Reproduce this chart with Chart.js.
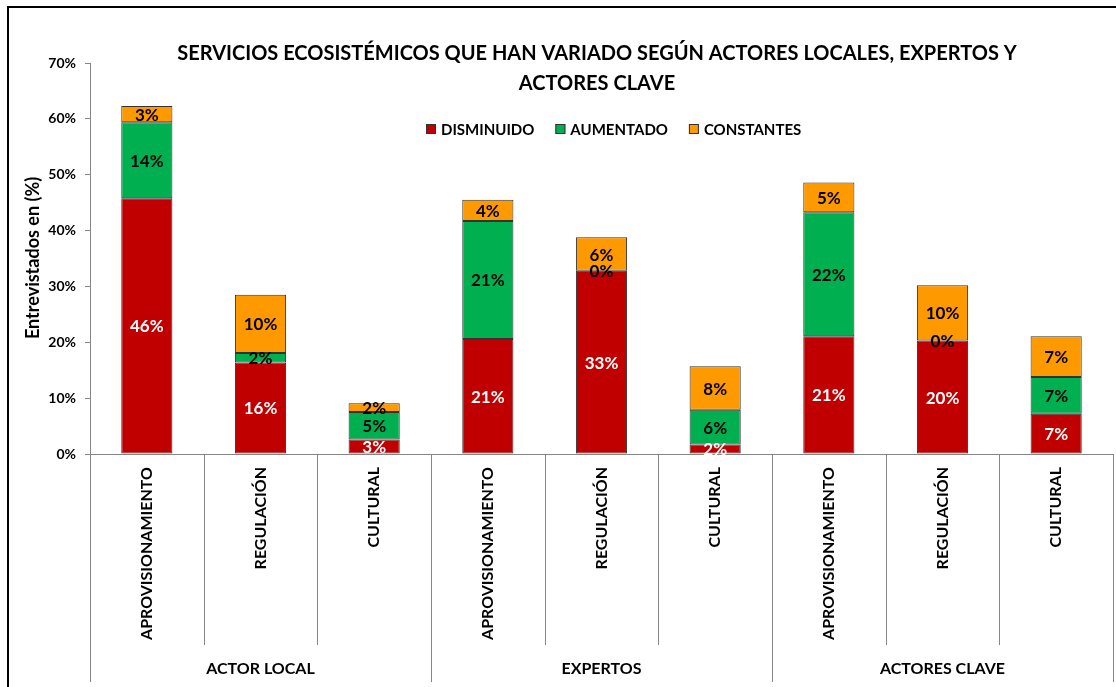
<!DOCTYPE html>
<html>
<head>
<meta charset="utf-8">
<script src="https://cdn.jsdelivr.net/npm/chart.js@4.4.1/dist/chart.umd.min.js"></script>
<style>
  html, body { margin: 0; padding: 0; background: #fff; }
  #wrap { width: 1116px; height: 687px; position: relative; }
</style>
</head>
<body>
<div id="wrap"><canvas id="chart"></canvas></div>
<script>
  // values (% of interviewees)
  const categories = ["APROVISIONAMIENTO", "REGULACIÓN", "CULTURAL",
                      "APROVISIONAMIENTO", "REGULACIÓN", "CULTURAL",
                      "APROVISIONAMIENTO", "REGULACIÓN", "CULTURAL"];
  const groups = ["ACTOR LOCAL", "EXPERTOS", "ACTORES CLAVE"];
  const seriesNames = ["DISMINUIDO", "AUMENTADO", "CONSTANTES"];
  const disminuido = [45.8, 16.4, 2.6, 20.6, 32.8, 1.7, 21.1, 20.3, 7.2];
  const aumentado  = [13.6, 1.7, 4.9, 21.1, 0.0, 6.2, 22.2, 0.0, 6.6];
  const constantes = [2.9, 10.4, 1.6, 3.8, 6.0, 7.8, 5.3, 9.9, 7.3];
  const titleLines = ["SERVICIOS ECOSISTÉMICOS QUE HAN VARIADO SEGÚN ACTORES LOCALES, EXPERTOS Y",
                      "ACTORES CLAVE"];
  const yTitle = "Entrevistados en (%)";

  const colors = ["#C00000", "#00B050", "#FF9900"];
  const FONT = "Lato, 'Open Sans', sans-serif";

  const overlay = {
    id: "overlay",
    beforeDraw(chart) {
      const ctx = chart.ctx;
      ctx.save();
      ctx.fillStyle = "#fff";
      ctx.fillRect(0, 0, chart.width, chart.height);
      ctx.strokeStyle = "#000";
      ctx.lineWidth = 2;
      ctx.strokeRect(8, 7, chart.width + 20, chart.height + 20);
      ctx.restore();
    },
    afterDatasetsDraw(chart) {
      const ctx = chart.ctx;
      ctx.save();
      ctx.font = "bold 17px " + FONT;
      ctx.textAlign = "center";
      ctx.textBaseline = "middle";
      chart.data.datasets.forEach((ds, i) => {
        const meta = chart.getDatasetMeta(i);
        meta.data.forEach((bar, j) => {
          const p = bar.getProps(["x", "y", "base"], true);
          ctx.fillStyle = i === 0 ? "#fff" : "#000";
          ctx.fillText(Math.round(ds.data[j]) + "%", p.x, (p.y + p.base) / 2 + 1);
        });
      });
      ctx.restore();
    },
    afterDraw(chart) {
      const ctx = chart.ctx;
      const xs = chart.scales.x;
      const area = chart.chartArea;
      const n = categories.length;
      const bounds = [];
      for (let i = 0; i <= n; i++) {
        if (i === 0) bounds.push(xs.left);
        else if (i === n) bounds.push(xs.right);
        else bounds.push((xs.getPixelForValue(i - 1) + xs.getPixelForValue(i)) / 2);
      }
      ctx.save();
      // separators of the two-level axis
      ctx.strokeStyle = "#868686";
      ctx.lineWidth = 1;
      bounds.forEach((bx, i) => {
        const long = i % 3 === 0;
        const x = Math.round(bx) + 0.5;
        ctx.beginPath();
        ctx.moveTo(x, area.bottom);
        ctx.lineTo(x, long ? 682 : 645);
        ctx.stroke();
      });
      // category labels, rotated
      ctx.fillStyle = "#000";
      ctx.font = "bold 16px " + FONT;
      ctx.textAlign = "right";
      ctx.textBaseline = "middle";
      categories.forEach((c, i) => {
        ctx.save();
        ctx.translate(xs.getPixelForValue(i), area.bottom + 13);
        ctx.rotate(-Math.PI / 2);
        ctx.fillText(c, 0, 0);
        ctx.restore();
      });
      // group labels
      ctx.textAlign = "center";
      ctx.font = "bold 16px " + FONT;
      groups.forEach((g, k) => {
        ctx.fillText(g, (bounds[k * 3] + bounds[k * 3 + 3]) / 2, 669);
      });
      // title
      ctx.font = "bold 20px " + FONT;
      ctx.fillText(titleLines[0], 597, 54);
      ctx.fillText(titleLines[1], 597, 84);
      // legend
      ctx.font = "bold 15px " + FONT;
      ctx.textAlign = "left";
      let lx = 426;
      seriesNames.forEach((s, i) => {
        ctx.fillStyle = colors[i];
        ctx.fillRect(lx, 124, 10, 10);
        ctx.strokeStyle = "#333";
        ctx.strokeRect(lx + 0.5, 124.5, 9, 9);
        ctx.fillStyle = "#000";
        ctx.fillText(s, lx + 15, 130);
        lx += 15 + ctx.measureText(s).width + 21;
      });
      // y axis title
      ctx.save();
      ctx.translate(33, 258);
      ctx.rotate(-Math.PI / 2);
      ctx.textAlign = "center";
      ctx.font = "bold 18px " + FONT;
      ctx.fillText(yTitle, 0, 0);
      ctx.restore();
      ctx.restore();
    }
  };

  new Chart(document.getElementById("chart"), {
    type: "bar",
    data: {
      labels: categories,
      datasets: [
        { label: seriesNames[0], data: disminuido, backgroundColor: colors[0] },
        { label: seriesNames[1], data: aumentado, backgroundColor: colors[1] },
        { label: seriesNames[2], data: constantes, backgroundColor: colors[2] }
      ].map(d => Object.assign(d, {
        borderColor: "#333",
        borderWidth: 1,
        borderSkipped: false,
        barPercentage: 1,
        categoryPercentage: 0.45
      }))
    },
    options: {
      responsive: true,
      maintainAspectRatio: false,
      animation: false,
      layout: { padding: { top: 63, right: 3, left: 0, bottom: 0 } },
      scales: {
        x: {
          stacked: true,
          ticks: { display: false },
          grid: { display: false },
          border: { color: "#868686" },
          afterFit: s => { s.height = 233; }
        },
        y: {
          stacked: true,
          min: 0,
          max: 70,
          ticks: {
            stepSize: 10,
            padding: 9,
            color: "#000",
            font: { family: FONT, size: 14, weight: "bold" },
            callback: v => v + "%"
          },
          grid: { drawOnChartArea: false, drawTicks: true, tickLength: 5, color: "#868686" },
          border: { color: "#868686" },
          afterFit: s => { s.width = 90; }
        }
      },
      plugins: {
        legend: { display: false },
        title: { display: false },
        tooltip: { enabled: false }
      }
    },
    plugins: [overlay]
  });
</script>
</body>
</html>
